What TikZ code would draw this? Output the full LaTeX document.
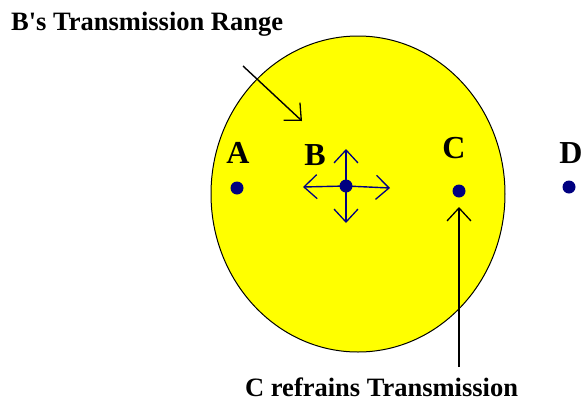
\documentclass[tikz,border=0pt]{standalone}
\usepackage{fontspec}
\setmainfont{Liberation Serif}
\usetikzlibrary{arrows.meta}
\definecolor{dotnavy}{RGB}{0,0,128}
\definecolor{rangeyellow}{RGB}{255,255,0}
\tikzset{
  dotnode/.style={circle,fill=dotnavy,inner sep=0pt,minimum size=13pt},
  lbl/.style={font=\fontsize{32}{36}\selectfont\bfseries,anchor=base,inner sep=0pt},
  caption/.style={font=\fontsize{26.5}{30}\selectfont\bfseries,anchor=base west,inner sep=0pt},
  barb/.style={-{Straight Barb[length=13pt,width=24pt,line width=1.3pt]},line width=1.4pt},
  sendarrow/.style={barb,draw=dotnavy},
}
\begin{document}
\begin{tikzpicture}[x=1pt,y=-1pt]
\useasboundingbox (0,0) rectangle (582,402);
% range
\draw[fill=rangeyellow,line width=1pt] (358,194) ellipse [x radius=147,y radius=158];
% stations
\node[dotnode] (A) at (237,188) {};
\node[dotnode] (B) at (346,186) {};
\node[dotnode] (C) at (459,191) {};
\node[dotnode] (D) at (569,187) {};
\node[lbl] (Alab) at (238,163) {A};
\node[lbl] (Blab) at (315,165) {B};
\node[lbl] (Clab) at (454,158) {C};
\node[lbl] (Dlab) at (571,163) {D};
% B transmitting
\coordinate (Bup) at (346,149);
\coordinate (Bdown) at (346,223);
\coordinate (Bleft) at (303,187);
\coordinate (Bright) at (390,188);
\draw[sendarrow] (B.center) -- (Bup);
\draw[sendarrow] (B.center) -- (Bdown);
\draw[sendarrow] (B.center) -- (Bleft);
\draw[sendarrow] (B.center) -- (Bright);
% captions
\node[caption] (range) at (11,30) {B\textquotesingle s Transmission Range};
\coordinate (rs) at (243,66);
\coordinate (re) at (302,121);
\draw[barb] (rs) -- (re);
\node[caption] (refrain) at (245,396) {C refrains Transmission};
\coordinate (cs) at (459,367);
\coordinate (ce) at (459,207);
\draw[barb] (cs) -- (ce);
\end{tikzpicture}
\end{document}
